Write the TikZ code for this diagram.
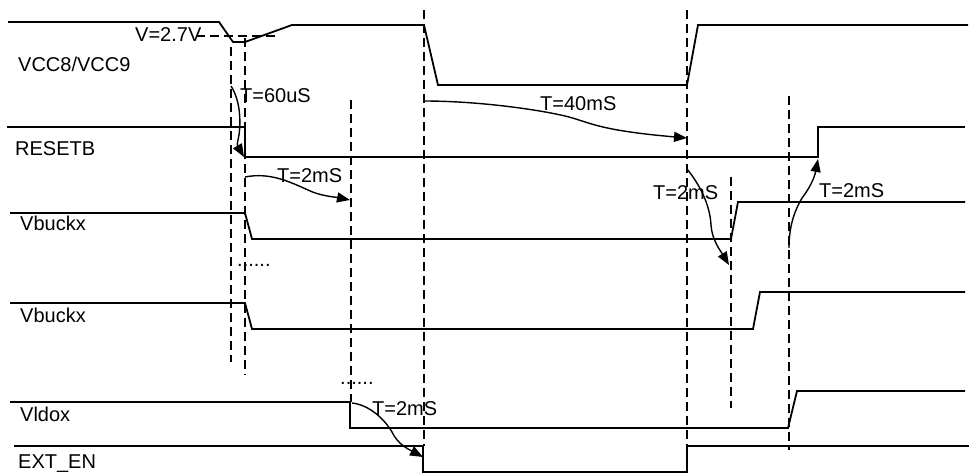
\documentclass[tikz,border=0pt]{standalone}
\usepackage{fontspec}
\setmainfont{Liberation Sans}
\usetikzlibrary{arrows.meta}

\begin{document}
\begin{tikzpicture}[
  x=1pt, y=-1pt,
  sig/.style={line width=1.8pt, line join=miter},
  guide/.style={line width=1.5pt, dash pattern=on 9pt off 5pt},
  lbl/.style={anchor=base west, inner sep=0pt, font=\fontsize{20}{24}\selectfont},
  delay/.style={-{Triangle[length=13pt,width=10pt]}, line width=1.4pt}
]
  \useasboundingbox (0,0) rectangle (969,473);

  % waveforms
  \draw[sig] (8,22) -- (219,22) -- (233,42) -- (245,42) -- (292,25) -- (424,25)
    -- (438,85) -- (687,85) -- (698,25) -- (968,25);
  \draw[sig] (7,127) -- (245,127) -- (245,157) -- (818,157) -- (818,127) -- (965,127);
  \draw[sig] (10,213) -- (245,213) -- (252,239) -- (731,239) -- (738,202) -- (965,202);
  \draw[sig] (10,303) -- (245,303) -- (252,329) -- (753,329) -- (760,292) -- (965,292);
  \draw[sig] (10,402) -- (350,402) -- (350,428) -- (788,428) -- (797,391) -- (965,391);
  \draw[sig] (14,446) -- (423,446) -- (423,472) -- (687,472) -- (687,446) -- (969,446);

  % time markers
  \draw[guide] (196,36) -- (278,36);
  \foreach \x/\ya/\yb in {231/47/362, 245/38/375, 351/100/402, 424/10/446,
                          687/10/446, 731/177/408, 789/96/450}
    \draw[guide] (\x,\ya) -- (\x,\yb);

  \node[lbl] (vcc) at (18,72) {VCC8/VCC9};
  \node[lbl] (vth) at (135,42) {V=2.7V};
  \node[lbl] (rst) at (15,156) {RESETB};
  \node[lbl] (buck1) at (20,231) {Vbuckx};
  \node[lbl] (buck2) at (20,322) {Vbuckx};
  \node[lbl] (ldo) at (20,421) {Vldox};
  \node[lbl] (ext) at (18,468) {EXT\_EN};
  \node[lbl] (more1) at (237,266) {......};
  \node[lbl] (more2) at (340,384) {......};

  \node[lbl] (t60us) at (240,103) {T=60uS};
  \node[lbl] (t40ms) at (540,111) {T=40mS};
  \node[lbl] (t2msa) at (277,183) {T=2mS};
  \node[lbl] (t2msb) at (653,200) {T=2mS};
  \node[lbl] (t2msc) at (819,198) {T=2mS};
  \node[lbl] (t2msd) at (372,415) {T=2mS};

  \coordinate (vccfall) at (231,86);
  \coordinate (rstfall) at (244,157);
  \coordinate (rstlow) at (245,177);
  \coordinate (buckoff) at (350,200);
  \coordinate (vccoff) at (424,101);
  \coordinate (vccon) at (687,138);
  \coordinate (vccup) at (687,169);
  \coordinate (buckon) at (729,265);
  \coordinate (ldoon) at (789,248);
  \coordinate (rstrise) at (818,159);
  \coordinate (ldooff) at (352,403);
  \coordinate (extoff) at (423,457);

  \draw[delay] (vccfall) .. controls (240,100) and (241,120) .. (239,135)
    .. controls (237,145) .. (rstfall);
  \draw[delay] (rstlow) .. controls (270,172) and (290,182) .. (308,190)
    .. controls (320,196) and (335,197) .. (buckoff);
  \draw[delay] (vccoff) .. controls (480,101) and (540,110) .. (565,116)
    .. controls (590,122) and (595,130) .. (vccon);
  \draw[delay] (vccup) .. controls (700,185) and (710,205) .. (711,225)
    .. controls (712,240) and (720,250) .. (buckon);
  \draw[delay] (ldoon) .. controls (789,225) and (795,210) .. (802,198)
    .. controls (812,185) and (815,175) .. (rstrise);
  \draw[delay] (ldooff) .. controls (370,405) and (385,420) .. (392,432)
    .. controls (398,445) and (410,450) .. (extoff);
\end{tikzpicture}
\end{document}
